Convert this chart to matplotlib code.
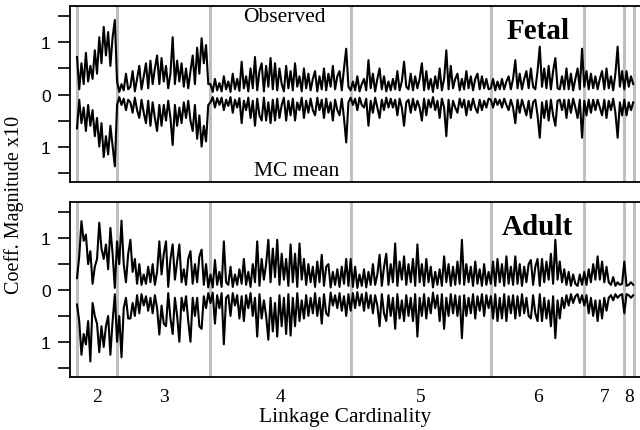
import numpy as np
import matplotlib
matplotlib.use("Agg")
import matplotlib.pyplot as plt

# ---- data (coefficient magnitude x10), sampled every 2nd linkage -------------
group_sizes = [36, 84, 126, 126, 84, 36, 9, 1]
tick_labels = ["2", "3", "4", "5", "6", "7", "8"]

fetal_obs = [
    # 2
    0.72, 0.1, 0.6, 0.2, 0.8, 0.25, 0.55, 0.3, 0.85, 0.4, 1.1, 0.6, 1.3, 0.75, 1.2, 0.55, 1.1, 1.43,
    # 3
    0.25, 0.05, 0.2, 0.08, 0.4, 0.1, 0.15, 0.45, 0.06, 0.3,
    0.55, 0.1, 0.35, 0.6, 0.12, 0.65, 0.2, 0.5, 0.75, 0.2,
    0.7, 0.25, 0.55, 0.12, 0.4, 1.1, 0.2, 0.65, 0.25, 0.6, 0.15,
    0.5, 0.12, 0.45, 0.75, 0.2, 0.9, 0.4, 1.08, 0.6, 0.95, 0.2,
    # 4
    0.2, 0.05, 0.3, 0.08, 0.22, 0.06, 0.35, 0.1, 0.25, 0.05, 0.4, 0.1, 0.3, 0.07, 0.63, 0.12,
    0.35, 0.06, 0.5, 0.12, 0.72, 0.08, 0.45, 0.6, 0.06, 0.55, 0.15, 0.7, 0.1, 0.6, 0.08, 0.5, 0.2,
    0.06, 0.55, 0.12, 0.45, 0.08, 0.6, 0.15, 0.35, 0.06, 0.5, 0.12, 0.4, 0.08, 0.3, 0.45, 0.06,
    0.35, 0.1, 0.5, 0.08, 0.4, 0.15, 0.55, 0.1, 0.35, 0.45, 0.08, 0.5, 0.88, 0.15,
    # 5
    0.08, 0.25, 0.08, 0.35, 0.06, 0.2, 0.3, 0.08, 0.66, 0.12, 0.4, 0.06, 0.3, 0.5, 0.1, 0.35,
    0.06, 0.25, 0.08, 0.3, 0.1, 0.45, 0.08, 0.25, 0.63, 0.15, 0.1, 0.4, 0.08, 0.35, 0.12, 0.3,
    0.6, 0.08, 0.45, 0.1, 0.3, 0.05, 0.35, 0.12, 0.5, 0.08, 0.3, 0.85, 0.1, 0.55, 0.12, 0.3,
    0.4, 0.08, 0.3, 0.1, 0.45, 0.12, 0.35, 0.08, 0.3, 0.4, 0.1, 0.35, 0.12, 0.3, 0.1,
    # 6
    0.12, 0.3, 0.08, 0.25, 0.1, 0.3, 0.1, 0.25, 0.35, 0.1, 0.3, 0.66,
    0.12, 0.4, 0.1, 0.3, 0.45, 0.12, 0.5, 0.15, 0.1, 0.45, 0.92, 0.15,
    0.5, 0.12, 0.55, 0.1, 0.45, 0.7, 0.12, 0.1, 0.35, 0.1, 0.5, 0.1, 0.4, 0.08, 0.3, 0.5, 0.1, 0.88,
    # 7
    0.15, 0.45, 0.1, 0.4, 0.12, 0.35, 0.1, 0.3, 0.45, 0.1, 0.5, 0.12, 0.35, 0.08, 0.4, 0.92, 0.15, 0.45,
    # 8
    0.1, 0.45, 0.15, 0.35, 0.2,
]

fetal_mc = [
    # 2
    -0.65, -0.1, -0.55, -0.25, -0.7, -0.2, -0.6, -0.3, -0.8, -0.45, -1.0, -0.55, -1.2, -0.8, -1.15, -0.6, -1.0, -1.38,
    # 3
    -0.2, -0.05, -0.2, -0.08, -0.3, -0.1, -0.15, -0.35, -0.06, -0.3,
    -0.45, -0.1, -0.35, -0.55, -0.12, -0.6, -0.15, -0.45, -0.7, -0.2,
    -0.6, -0.2, -0.5, -0.12, -0.45, -0.97, -0.2, -0.6, -0.25, -0.55, -0.15,
    -0.45, -0.12, -0.5, -0.7, -0.2, -0.85, -0.4, -1.0, -0.6, -0.9, -0.2,
    # 4
    -0.15, -0.05, -0.25, -0.07, -0.2, -0.06, -0.3, -0.1, -0.22, -0.05, -0.35, -0.1, -0.25, -0.07, -0.55, -0.12,
    -0.3, -0.06, -0.45, -0.12, -0.6, -0.08, -0.4, -0.5, -0.06, -0.5, -0.15, -0.55, -0.1, -0.5, -0.08, -0.45, -0.2,
    -0.06, -0.5, -0.12, -0.4, -0.08, -0.5, -0.15, -0.3, -0.06, -0.45, -0.12, -0.35, -0.08, -0.3, -0.4, -0.06,
    -0.3, -0.1, -0.45, -0.08, -0.35, -0.15, -0.5, -0.1, -0.3, -0.4, -0.08, -0.45, -0.92, -0.15,
    # 5
    -0.06, -0.2, -0.08, -0.3, -0.06, -0.2, -0.25, -0.08, -0.6, -0.12, -0.35, -0.06, -0.25, -0.45, -0.1, -0.3,
    -0.06, -0.25, -0.08, -0.25, -0.1, -0.4, -0.08, -0.25, -0.6, -0.15, -0.1, -0.35, -0.08, -0.3, -0.12, -0.25,
    -0.5, -0.08, -0.4, -0.1, -0.25, -0.05, -0.3, -0.12, -0.45, -0.08, -0.25, -0.8, -0.1, -0.45, -0.12, -0.25,
    -0.35, -0.08, -0.25, -0.1, -0.4, -0.12, -0.3, -0.08, -0.25, -0.35, -0.1, -0.3, -0.12, -0.25, -0.08,
    # 6
    -0.1, -0.25, -0.08, -0.2, -0.1, -0.25, -0.08, -0.2, -0.3, -0.1, -0.25, -0.55,
    -0.1, -0.35, -0.1, -0.25, -0.4, -0.12, -0.45, -0.15, -0.1, -0.4, -0.83, -0.15,
    -0.45, -0.12, -0.5, -0.1, -0.4, -0.6, -0.12, -0.1, -0.3, -0.1, -0.45, -0.1, -0.35, -0.08, -0.25, -0.45, -0.1, -0.83,
    # 7
    -0.12, -0.4, -0.1, -0.35, -0.1, -0.3, -0.1, -0.25, -0.4, -0.1, -0.45, -0.12, -0.3, -0.08, -0.35, -0.83, -0.15, -0.4,
    # 8
    -0.1, -0.4, -0.15, -0.3, -0.15,
]

adult_obs = [
    # 2
    0.23, 0.65, 1.33, 0.95, 1.07, 0.5, 0.75, 0.12, 0.45, 0.6, 1.3, 0.8, 0.6, 0.88, 0.4, 1.2, 0.7, 0.04,
    # 3
    0.94, 0.5, 1.34, 0.5, 0.15, 0.7, 0.97, 0.35, 0.6, 0.12,
    0.5, 0.1, 0.3, 0.12, 0.45, 0.15, 0.5, 0.1, 0.35, 0.94,
    0.3, 0.7, 0.94, 0.06, 0.6, 0.88, 0.2, 0.55, 0.88, 0.15,
    0.4, 0.1, 0.6, 0.75, 0.12, 0.5, 0.15, 0.65, 0.78, 0.1, 0.5, 0.05,
    # 4
    0.3, 0.05, 0.58, 0.1, 0.35, 0.06, 0.94, 0.15, 0.1, 0.45, 0.06, 0.3, 0.1, 0.4, 0.12, 0.6,
    0.1, 0.35, 0.06, 0.5, 0.15, 0.94, 0.08, 0.6, 0.2, 0.5, 0.97, 0.15, 0.8, 0.25, 0.97, 0.1, 0.7,
    0.2, 0.6, 0.08, 0.88, 0.15, 0.7, 0.06, 0.9, 0.2, 0.6, 0.1, 0.5, 0.15, 0.45, 0.06, 0.55,
    0.15, 0.68, 0.08, 0.45, 0.5, 0.05, 0.35, 0.1, 0.4, 0.06, 0.45, 0.12, 0.6, 0.08,
    # 5
    0.6, 0.06, 0.45, 0.04, 0.3, 0.08, 0.4, 0.05, 0.35, 0.1, 0.5, 0.1, 0.3, 0.68, 0.08, 0.45,
    0.7, 0.1, 0.5, 0.15, 0.9, 0.08, 0.55, 0.2, 0.65, 0.1, 0.5, 0.15, 0.6, 0.08, 0.88, 0.15,
    0.5, 0.08, 0.6, 0.15, 0.45, 0.05, 0.35, 0.1, 0.4, 0.08, 0.65, 0.15, 0.5, 0.08, 0.45, 0.1,
    0.55, 0.12, 0.97, 0.1, 0.5, 0.15, 0.45, 0.08, 0.55, 0.12, 0.4, 0.08, 0.5, 0.1, 0.35,
    # 6
    0.12, 0.55, 0.08, 0.6, 0.15, 0.5, 0.08, 0.65, 0.12, 0.45, 0.1, 0.65,
    0.12, 0.5, 0.08, 0.45, 0.15, 0.5, 0.58, 0.1, 0.45, 0.6, 0.08, 0.6,
    0.15, 0.55, 0.2, 0.7, 0.12, 0.97, 0.2, 0.55, 0.15, 0.4, 0.1, 0.35, 0.08, 0.3, 0.12, 0.08, 0.3, 0.1,
    # 7
    0.35, 0.1, 0.4, 0.15, 0.5, 0.2, 0.65, 0.2, 0.55, 0.15, 0.45, 0.15, 0.1, 0.25, 0.08, 0.15, 0.1, 0.12,
    # 8
    0.55, 0.08, 0.1, 0.15, 0.1,
]

adult_mc = [
    # 2
    -0.28, -0.6, -1.25, -0.85, -1.05, -0.6, -1.38, -0.25, -0.5, -0.65, -1.2, -0.7, -1.1, -0.7, -0.5, -1.25, -0.6, -0.08,
    # 3
    -1.0, -0.5, -1.3, -0.35, -0.15, -0.55, -0.55, -0.25, -0.5, -0.1,
    -0.45, -0.08, -0.3, -0.12, -0.4, -0.15, -0.45, -0.1, -0.35, -0.86,
    -0.3, -0.65, -0.7, -0.06, -0.55, -0.85, -0.15, -0.5, -1.0, -0.15,
    -0.4, -0.12, -0.6, -1.0, -0.15, -0.5, -0.15, -0.7, -0.75, -0.12, -0.35, -0.06,
    # 4
    -0.25, -0.05, -0.65, -0.1, -0.35, -0.06, -1.05, -0.15, -0.1, -0.5, -0.06, -0.3, -0.1, -0.55, -0.12, -0.6,
    -0.1, -0.35, -0.06, -0.5, -0.15, -0.9, -0.08, -0.55, -0.2, -0.5, -0.96, -0.15, -0.8, -0.25, -0.9, -0.1, -0.7,
    -0.15, -0.85, -0.08, -0.88, -0.15, -0.7, -0.06, -0.6, -0.2, -0.55, -0.1, -0.5, -0.15, -0.45, -0.06, -0.5,
    -0.15, -0.65, -0.08, -0.45, -0.5, -0.05, -0.3, -0.1, -0.35, -0.06, -0.4, -0.12, -0.5, -0.08,
    # 5
    -0.4, -0.06, -0.35, -0.04, -0.3, -0.08, -0.4, -0.05, -0.35, -0.1, -0.45, -0.1, -0.3, -0.7, -0.08, -0.45,
    -0.6, -0.1, -0.5, -0.15, -0.75, -0.08, -0.55, -0.2, -0.6, -0.1, -0.5, -0.15, -0.6, -0.08, -0.9, -0.15,
    -0.5, -0.08, -0.55, -0.15, -0.45, -0.05, -0.35, -0.1, -0.6, -0.08, -0.75, -0.15, -0.5, -0.08, -0.45, -0.1,
    -0.5, -0.12, -0.93, -0.1, -0.5, -0.15, -0.45, -0.08, -0.55, -0.12, -0.4, -0.08, -0.5, -0.1, -0.35,
    # 6
    -0.12, -0.55, -0.08, -0.6, -0.15, -0.55, -0.08, -0.6, -0.12, -0.45, -0.1, -0.55,
    -0.12, -0.5, -0.08, -0.45, -0.15, -0.5, -0.55, -0.1, -0.45, -0.6, -0.08, -0.6,
    -0.15, -0.55, -0.2, -0.7, -0.12, -0.93, -0.2, -0.55, -0.15, -0.35, -0.1, -0.3, -0.08, -0.25, -0.12, -0.08, -0.25, -0.1,
    # 7
    -0.3, -0.1, -0.45, -0.15, -0.5, -0.2, -0.6, -0.2, -0.55, -0.15, -0.4, -0.15, -0.1, -0.2, -0.08, -0.15, -0.1, -0.08,
    # 8
    -0.45, -0.08, -0.1, -0.15, -0.1,
]

# ---- plotting ---------------------------------------------------------------
serif = ["Liberation Serif", "DejaVu Serif"]
sans = ["Liberation Sans", "DejaVu Sans"]

W, H = 640, 431
fig = plt.figure(figsize=(W / 100, H / 100), dpi=100)

bounds = np.concatenate([[0], np.cumsum(group_sizes)])
mids = [(bounds[i] + bounds[i + 1]) / 2 for i in range(len(tick_labels))]
step = 2


def px_axes(left, top, right, bottom):
    return fig.add_axes([left / W, 1 - bottom / H, (right - left) / W, (bottom - top) / H])


def draw_panel(ax, obs, mc, label, show_x):
    xo = np.arange(len(obs)) * step
    xm = np.arange(len(mc)) * step
    for b in bounds[:-1]:
        ax.axvline(b, color="#c0c0c0", lw=2.2, zorder=1)
    ax.plot(xo, obs, color="black", lw=1.5, zorder=3)
    ax.plot(xm, mc, color="black", lw=1.5, zorder=3)
    ax.set_xlim(-6.3, 511.5)
    ax.set_ylim(-1.68, 1.70)
    ax.set_yticks([-1.5, -1, -0.5, 0, 0.5, 1, 1.5])
    ax.set_yticklabels(["", "1", "", "0", "", "1", ""], fontfamily=sans, fontsize=12.5)
    ax.tick_params(axis="y", length=9, width=1.2, pad=5, direction="out")
    ax.set_xticks(mids)
    if show_x:
        ax.set_xticklabels(tick_labels, fontfamily=serif, fontsize=14)
    else:
        ax.set_xticklabels([])
    ax.tick_params(axis="x", length=0, pad=8)
    for s in ax.spines.values():
        s.set_linewidth(1.3)
    ax.text(0.812, 0.935, label, transform=ax.transAxes, ha="center", va="top",
            fontfamily=serif, fontweight="bold", fontsize=21)


ax1 = px_axes(70, 7, 646, 183)
draw_panel(ax1, fetal_obs, fetal_mc, "Fetal", False)
ax1.text(0.373, 0.995, "Observed", transform=ax1.transAxes, ha="center", va="top",
         fontfamily=serif, fontsize=15.5)
ax1.text(0.393, 0.01, "MC mean", transform=ax1.transAxes, ha="center", va="bottom",
         fontfamily=serif, fontsize=15.5)

ax2 = px_axes(70, 203, 646, 378)
draw_panel(ax2, adult_obs, adult_mc, "Adult", True)

fig.text(345 / W, 1 - 418 / H, "Linkage Cardinality", ha="center", va="center",
         fontfamily=serif, fontsize=15.5)
fig.text(14 / W, 1 - 205 / H, "Coeff. Magnitude x10", ha="center", va="center",
         rotation=90, fontfamily=serif, fontsize=14.5)

fig.savefig("out.png", dpi=100)
